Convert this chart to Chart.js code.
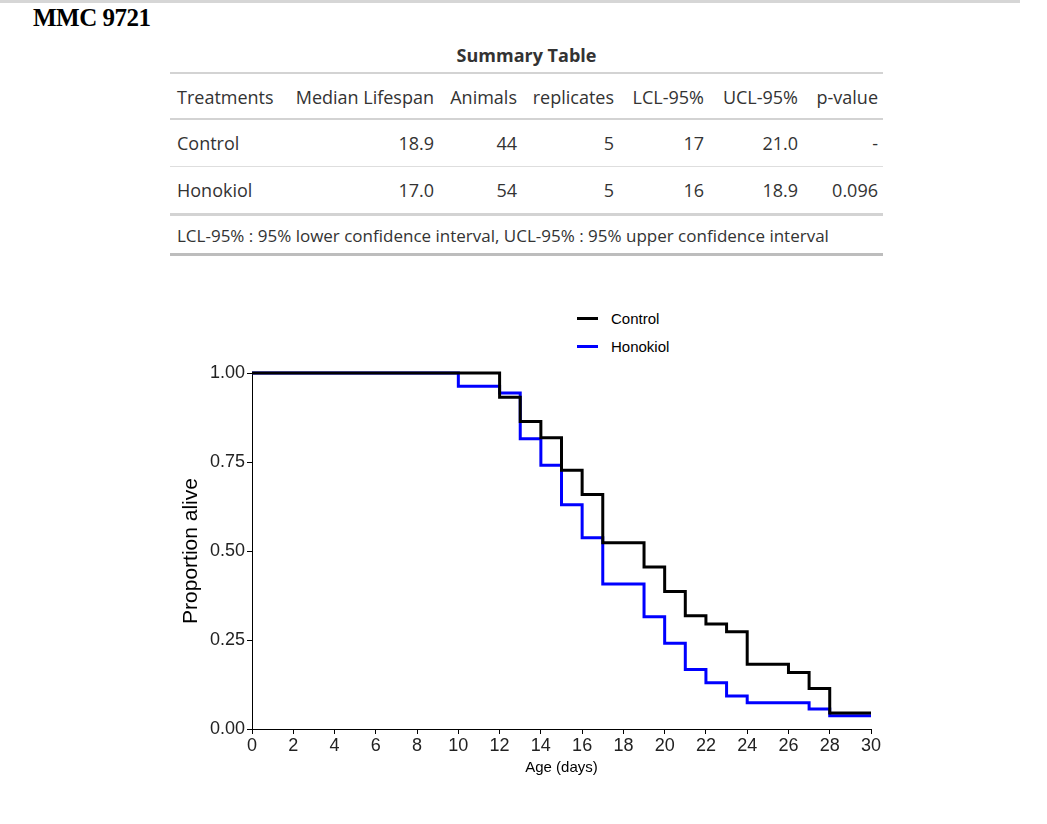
<!DOCTYPE html>
<html>
<head>
<meta charset="utf-8">
<script src="https://cdn.jsdelivr.net/npm/chart.js@4.4.1/dist/chart.umd.min.js"></script>
<style>
  body { margin: 0; background: #fff; width: 1047px; height: 824px; position: relative; overflow: hidden; }
  .topline { position: absolute; left: 0; top: 0; width: 1020px; height: 3px; background: #d6d6d6; }
  h1 { position: absolute; left: 33px; top: 4px; margin: 0; font: bold 25px "Liberation Serif", serif; color: #000; letter-spacing: -0.5px; }
  .ttl { position: absolute; left: 170px; width: 713px; top: 43px; text-align: center; font: bold 18px "Open Sans", sans-serif; color: #333; }
  table { position: absolute; left: 170px; top: 72px; width: 713px; table-layout: fixed; border-collapse: collapse; font: 18px "Open Sans", sans-serif; color: #333; }
  table { border-top: 2px solid #d3d3d3; border-bottom: 3px solid #bdbdbd; }
  td, th { font-weight: normal; padding: 0 5px; height: 46px; white-space: nowrap; text-align: right; }
  th { height: 43px; padding-top: 1px; }
  td:first-child, th:first-child { text-align: left; padding-left: 7px; }
  thead tr { border-bottom: 2px solid #d3d3d3; }
  tbody tr { border-bottom: 1px solid #dedede; }
  tbody tr:last-child { border-bottom: 3px solid #d3d3d3; }
  tfoot td { text-align: left !important; height: 35px; font-size: 17px; padding-top: 2px; }
  #wrap { position: absolute; left: 160px; top: 360px; width: 730px; height: 420px; }
  #legend { position: absolute; left: 577px; top: 304px; font: 15px "Liberation Sans", Arial, sans-serif; color: #000; }
  #legend div { height: 28px; display: flex; align-items: center; }
  #legend span.sw { display: inline-block; width: 21px; height: 3px; margin-right: 13px; }
</style>
</head>
<body>
<div class="topline"></div>
<h1>MMC 9721</h1>
<div class="ttl">Summary Table</div>
<table id="tbl"></table>
<div id="legend"></div>
<div id="wrap"><canvas id="km"></canvas></div>
<script>
// summary table
const headers = ['Treatments', 'Median Lifespan', 'Animals', 'replicates', 'LCL-95%', 'UCL-95%', 'p-value'];
const treatments = ['Control', 'Honokiol'];
const medianLifespan = ['18.9', '17.0'];
const animals = [44, 54];
const replicates = [5, 5];
const lcl = ['17', '16'];
const ucl = ['21.0', '18.9'];
const pValues = ['-', '0.096'];
const footnote = 'LCL-95% : 95% lower confidence interval, UCL-95% : 95% upper confidence interval';

// survival curves
const controlDays = [0, 12, 13, 14, 15, 16, 17, 19, 20, 21, 22, 23, 24, 26, 27, 28, 30];
const controlSurv = [1, 0.932, 0.864, 0.818, 0.727, 0.659, 0.523, 0.455, 0.386, 0.318, 0.295, 0.273, 0.182, 0.159, 0.114, 0.045, 0.045];
const honokiolDays = [0, 10, 12, 13, 14, 15, 16, 17, 19, 20, 21, 22, 23, 24, 27, 28, 30];
const honokiolSurv = [1, 0.963, 0.944, 0.815, 0.741, 0.630, 0.537, 0.407, 0.315, 0.241, 0.167, 0.130, 0.093, 0.074, 0.056, 0.037, 0.037];
const seriesColors = ['#000000', '#0000ff'];

const colWidths = [112, 157, 83, 97, 90, 94, 80];
let html = '<colgroup>' + colWidths.map(w => '<col style="width:' + w + 'px">').join('') + '</colgroup>';
html += '<thead><tr>' + headers.map(h => '<th>' + h + '</th>').join('') + '</tr></thead><tbody>';
treatments.forEach((t, i) => {
  html += '<tr><td>' + t + '</td><td>' + medianLifespan[i] + '</td><td>' + animals[i] + '</td><td>' + replicates[i] +
    '</td><td>' + lcl[i] + '</td><td>' + ucl[i] + '</td><td>' + pValues[i] + '</td></tr>';
});
html += '</tbody><tfoot><tr><td colspan="7">' + footnote + '</td></tr></tfoot>';
document.getElementById('tbl').innerHTML = html;

document.getElementById('legend').innerHTML = treatments.map((t, i) =>
  '<div><span class="sw" style="background:' + seriesColors[i] + '"></span>' + t + '</div>').join('');

const pts = (xs, ys) => xs.map((x, i) => ({ x: x, y: ys[i] }));

new Chart(document.getElementById('km').getContext('2d'), {
  type: 'line',
  data: {
    datasets: [
      { label: treatments[0], data: pts(controlDays, controlSurv), borderColor: seriesColors[0], borderWidth: 3, stepped: 'before', pointRadius: 0, clip: 6 },
      { label: treatments[1], data: pts(honokiolDays, honokiolSurv), borderColor: seriesColors[1], borderWidth: 3, stepped: 'before', pointRadius: 0, clip: 6 }
    ]
  },
  options: {
    responsive: true,
    maintainAspectRatio: false,
    animation: false,
    layout: { padding: { top: 13, right: 19, left: 19, bottom: 3 } },
    plugins: { legend: { display: false }, tooltip: { enabled: false } },
    scales: {
      x: {
        type: 'linear', min: 0, max: 30,
        ticks: { stepSize: 2, color: '#222', font: { family: 'Liberation Sans', size: 18 }, padding: 1, maxRotation: 0 },
        grid: { drawOnChartArea: false, drawTicks: true, tickLength: 5, color: '#000' },
        border: { color: '#000', width: 1 },
        title: { display: true, text: 'Age (days)', color: '#000', font: { family: 'Liberation Sans', size: 15 }, padding: 0 },
        afterFit: s => { s.height = 48; }
      },
      y: {
        min: 0, max: 1,
        ticks: { stepSize: 0.25, color: '#222', font: { family: 'Liberation Sans', size: 18 }, padding: 2, callback: v => v.toFixed(2) },
        grid: { drawOnChartArea: false, drawTicks: true, tickLength: 5, color: '#000' },
        border: { color: '#000', width: 1 },
        title: { display: true, text: 'Proportion alive', color: '#000', font: { family: 'Liberation Sans', size: 21 }, padding: 0 },
        afterFit: s => { s.width = 73; }
      }
    }
  }
});
</script>
</body>
</html>
